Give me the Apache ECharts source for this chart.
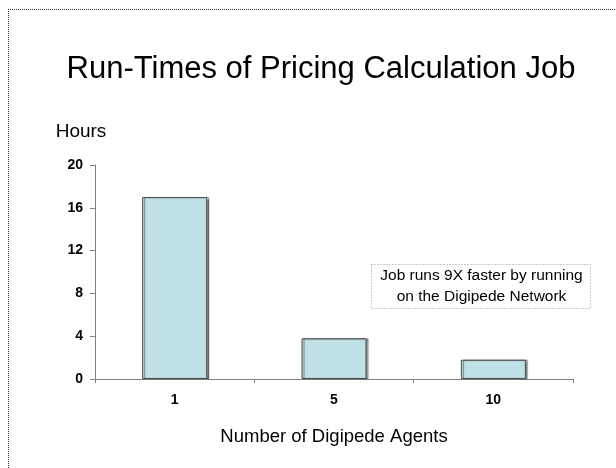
<!DOCTYPE html>
<html>
<head>
<meta charset="utf-8">
<script src="https://cdn.jsdelivr.net/npm/echarts@6/dist/echarts.min.js"></script>
<style>
  html, body { margin: 0; padding: 0; background: #fff; }
  #frame {
    position: absolute;
    left: 8px;
    top: 9px;
    width: 620px;
    height: 470px;
    border-top: 1px dotted #333;
    border-left: 1px dotted #333;
  }
  #chart { position: absolute; left: 0; top: 0; width: 616px; height: 468px; }
</style>
</head>
<body>
<div id="frame"></div>
<div id="chart"></div>
<script>
// 代理数量
const agents = ['1', '5', '10']
// 运行时间（小时）
const hours = [17, 3.8, 1.8]
const yTicks = [0, 4, 8, 12, 16, 20]

const chart = echarts.init(document.getElementById('chart'))
const font = 'Arial, "Liberation Sans", sans-serif'

chart.setOption({
  animation: false,
  title: {
    text: 'Run-Times of Pricing Calculation Job',
    left: 316,
    textAlign: 'center',
    top: 49,
    textStyle: {
      fontFamily: font,
      fontSize: 31,
      fontWeight: 'normal',
      color: '#000'
    }
  },
  grid: {
    left: 95,
    right: 43,
    top: 165,
    bottom: 89
  },
  xAxis: {
    type: 'category',
    data: agents,
    name: 'Number of Digipede Agents',
    nameLocation: 'middle',
    nameGap: 48,
    nameTextStyle: {
      fontFamily: font,
      fontSize: 18.5,
      color: '#000'
    },
    axisLine: { lineStyle: { color: '#808080', width: 1 } },
    axisTick: { show: true, length: 4, lineStyle: { color: '#808080' } },
    axisLabel: {
      margin: 14,
      fontFamily: font,
      fontSize: 14,
      fontWeight: 'bold',
      color: '#000'
    }
  },
  yAxis: {
    type: 'value',
    min: yTicks[0],
    max: yTicks[yTicks.length - 1],
    interval: 4,
    name: 'Hours',
    nameLocation: 'end',
    nameGap: 24,
    nameTextStyle: {
      fontFamily: font,
      fontSize: 19,
      color: '#000',
      align: 'center',
      padding: [0, 28, 0, 0]
    },
    axisLine: { show: true, lineStyle: { color: '#808080', width: 1 } },
    axisTick: { show: true, length: 5, lineStyle: { color: '#808080' } },
    splitLine: { show: false },
    axisLabel: {
      margin: 12,
      fontFamily: font,
      fontSize: 14,
      fontWeight: 'bold',
      color: '#000'
    }
  },
  series: [{
    type: 'bar',
    data: hours,
    barWidth: 65,
    itemStyle: {
      color: '#bfe1e6',
      borderColor: '#4d4d4d',
      borderWidth: 1,
      shadowColor: 'rgba(0,0,0,0.45)',
      shadowOffsetX: 2,
      shadowOffsetY: 0,
      shadowBlur: 1
    }
  }],
  graphic: [{
    type: 'group',
    left: 371,
    top: 264,
    children: [{
      type: 'rect',
      shape: { x: 0, y: 0, width: 219, height: 44 },
      style: {
        fill: '#fff',
        stroke: '#999',
        lineWidth: 1,
        lineDash: [1, 2]
      }
    }, {
      type: 'text',
      x: 110,
      y: 22,
      style: {
        text: 'Job runs 9X faster by running\non the Digipede Network',
        fontFamily: font,
        fontSize: 15.5,
        lineHeight: 21,
        fill: '#000',
        align: 'center',
        verticalAlign: 'middle'
      }
    }]
  }]
})
</script>
</body>
</html>
